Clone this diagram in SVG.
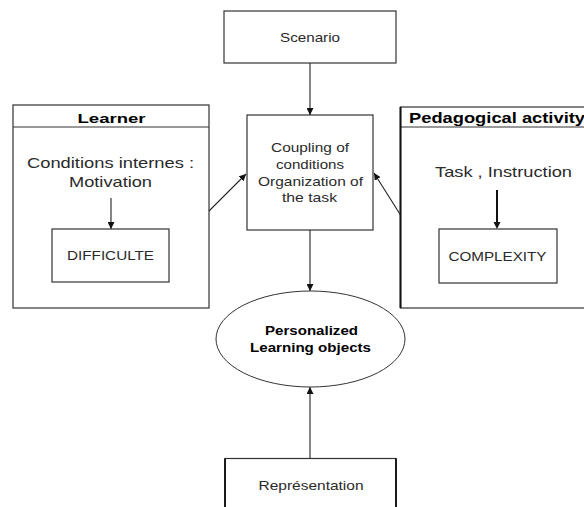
<svg xmlns="http://www.w3.org/2000/svg" width="584" height="507" viewBox="0 0 584 507">
<defs>
<style>
.box{fill:#fff;stroke:#333;stroke-width:1.2}
.t{font-family:"Liberation Sans",Arial,sans-serif;fill:#2a2a2a;text-anchor:middle}
.b{font-family:"Liberation Sans",Arial,sans-serif;font-weight:bold;fill:#000;text-anchor:middle}
.c{stroke:#222;stroke-width:1.1;fill:none;marker-end:url(#ah)}
</style>
<marker id="ah" viewBox="0 0 10 10" refX="10" refY="5" markerWidth="7" markerHeight="7" markerUnits="userSpaceOnUse" orient="auto">
<path d="M0,0 L10,5 L0,10 z" fill="#111"/>
</marker>
</defs>
<rect width="584" height="507" fill="#fff"/>

<g id="scenario">
<rect class="box" x="224" y="11" width="172" height="52"/>
<text class="t" x="310" y="41.5" font-size="13" textLength="60" lengthAdjust="spacingAndGlyphs">Scenario</text>
</g>

<g id="coupling">
<rect class="box" x="247" y="115" width="126" height="115"/>
<text class="t" x="310" y="152" font-size="13.5" textLength="78" lengthAdjust="spacingAndGlyphs">Coupling of</text>
<text class="t" x="310" y="168.5" font-size="13.5" textLength="68" lengthAdjust="spacingAndGlyphs">conditions</text>
<text class="t" x="310.5" y="186" font-size="13.5" textLength="105" lengthAdjust="spacingAndGlyphs">Organization of</text>
<text class="t" x="309.5" y="202" font-size="13.5" textLength="55" lengthAdjust="spacingAndGlyphs">the task</text>
</g>

<g id="learner">
<rect class="box" x="13" y="105" width="196" height="203"/>
<line x1="13" y1="127" x2="209" y2="127" stroke="#333" stroke-width="1.2"/>
<text class="b" x="111.5" y="123" font-size="13.5" textLength="68" lengthAdjust="spacingAndGlyphs">Learner</text>
<text class="t" x="110.5" y="168" font-size="15" textLength="167" lengthAdjust="spacingAndGlyphs">Conditions internes :</text>
<text class="t" x="110.5" y="186.5" font-size="15" textLength="83" lengthAdjust="spacingAndGlyphs">Motivation</text>
<line class="c" x1="111" y1="198" x2="111" y2="229"/>
</g>

<g id="difficulte">
<rect class="box" x="52" y="229" width="117" height="53"/>
<text class="t" x="110.5" y="260" font-size="13" textLength="87" lengthAdjust="spacingAndGlyphs">DIFFICULTE</text>
</g>

<g id="pedagogical">
<rect class="box" x="400.5" y="107" width="200" height="201"/>
<line x1="400.5" y1="127" x2="600" y2="127" stroke="#333" stroke-width="1.2"/>
<line x1="400.5" y1="107" x2="400.5" y2="308" stroke="#111" stroke-width="2"/>
<text class="b" x="497" y="123" font-size="14" textLength="176" lengthAdjust="spacingAndGlyphs">Pedagogical activity</text>
<text class="t" x="503.5" y="177" font-size="15" textLength="137" lengthAdjust="spacingAndGlyphs">Task , Instruction</text>
<line x1="497" y1="190" x2="497" y2="224" stroke="#111" stroke-width="2"/>
<path d="M493.5,222 L500.5,222 L497,229 z" fill="#111"/>
</g>

<g id="complexity">
<rect class="box" x="439" y="229" width="118" height="54"/>
<text class="t" x="497.5" y="260.5" font-size="13" textLength="98" lengthAdjust="spacingAndGlyphs">COMPLEXITY</text>
</g>

<g id="personalized">
<ellipse cx="310.5" cy="339" rx="94.5" ry="48" fill="#fff" stroke="#333" stroke-width="1"/>
<text class="b" x="311.5" y="335" font-size="13.5" textLength="93" lengthAdjust="spacingAndGlyphs">Personalized</text>
<text class="b" x="310.5" y="352" font-size="13.5" textLength="121" lengthAdjust="spacingAndGlyphs">Learning objects</text>
</g>

<g id="representation">
<rect class="box" x="225" y="458.5" width="171" height="70"/>
<line x1="225" y1="458.5" x2="225" y2="507" stroke="#111" stroke-width="1.8"/>
<line x1="396" y1="458.5" x2="396" y2="507" stroke="#111" stroke-width="1.8"/>
<text class="t" x="311" y="489.5" font-size="13" textLength="105" lengthAdjust="spacingAndGlyphs">Représentation</text>
</g>

<g id="connectors">
<line class="c" x1="310" y1="63" x2="310" y2="115"/>
<line class="c" x1="209" y1="211" x2="246" y2="174"/>
<line class="c" x1="400.5" y1="215" x2="374" y2="173"/>
<line class="c" x1="310" y1="230" x2="310" y2="291"/>
<line class="c" x1="310" y1="458.5" x2="310" y2="387"/>
</g>
</svg>
